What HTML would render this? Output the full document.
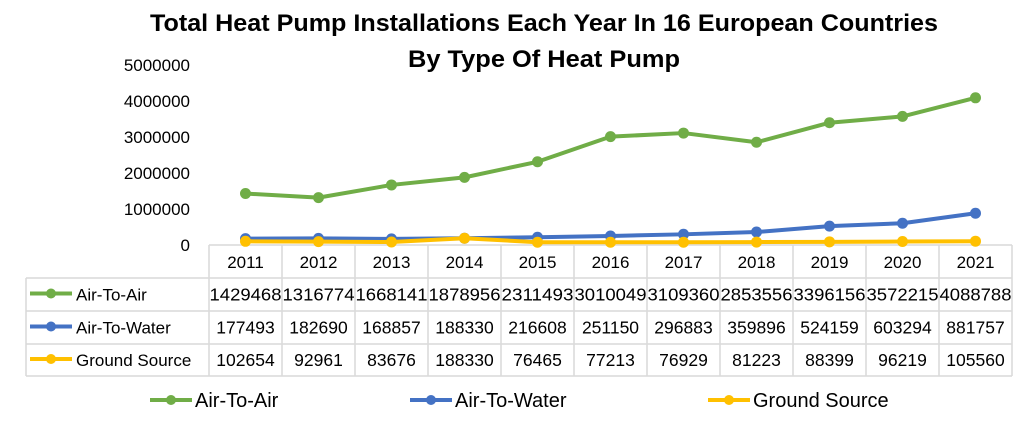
<!DOCTYPE html>
<html><head><meta charset="utf-8"><style>
html,body{margin:0;padding:0;background:#fff;}
svg text{font-family:"Liberation Sans Narrow","Liberation Sans",sans-serif;fill:#000;}
</style></head><body>
<svg id="chart" width="1029" height="416" xmlns="http://www.w3.org/2000/svg">
<g>
<text x="544" y="31" text-anchor="middle" font-size="24" font-weight="bold" textLength="788" lengthAdjust="spacingAndGlyphs" style="font-family:'Liberation Sans',sans-serif">Total Heat Pump Installations Each Year In 16 European Countries</text>
<text x="544" y="67" text-anchor="middle" font-size="24" font-weight="bold" textLength="272" lengthAdjust="spacingAndGlyphs" style="font-family:'Liberation Sans',sans-serif">By Type Of Heat Pump</text>
</g>
<g id="yaxis"></g>
<g id="table"></g>
<g id="series"></g>
<g id="legend"></g>
</svg>
<script>
const years=["2011","2012","2013","2014","2015","2016","2017","2018","2019","2020","2021"];
const airToAir=[1429468,1316774,1668141,1878956,2311493,3010049,3109360,2853556,3396156,3572215,4088788];
const airToWater=[177493,182690,168857,188330,216608,251150,296883,359896,524159,603294,881757];
const groundSource=[102654,92961,83676,188330,76465,77213,76929,81223,88399,96219,105560];
const yTicks=[0,1000000,2000000,3000000,4000000,5000000];
const seriesNames=["Air-To-Air","Air-To-Water","Ground Source"];
const colors=["#70ad47","#4472c4","#ffc000"];
const allSeries=[airToAir,airToWater,groundSource];

const NS="http://www.w3.org/2000/svg";
const X0=209,CW=73,Y0=245,YMAX=5000000,PH=180;
const xPos=i=>X0+CW*i+CW/2;
const yPos=v=>Y0-v/YMAX*PH;
function mk(tag,attrs,parent,txt){const e=document.createElementNS(NS,tag);for(const k in attrs)e.setAttribute(k,attrs[k]);if(txt!==undefined)e.textContent=txt;parent.appendChild(e);return e;}

const ya=document.getElementById('yaxis');
yTicks.forEach(t=>{const e=mk('text',{x:190,y:yPos(t)+6,'text-anchor':'end','font-size':17},ya,String(t));

});

const tb=document.getElementById('table');
const grid="#d9d9d9";
const rowsY=[245,278,311,344,376];
const right=X0+CW*years.length;
mk('line',{x1:X0,y1:245,x2:right,y2:245,stroke:grid,'stroke-width':1.5},tb);
for(let r=1;r<5;r++)mk('line',{x1:26,y1:rowsY[r],x2:right,y2:rowsY[r],stroke:grid,'stroke-width':1.5},tb);
mk('line',{x1:26,y1:278,x2:26,y2:376,stroke:grid,'stroke-width':1.5},tb);
for(let i=0;i<=years.length;i++)mk('line',{x1:X0+CW*i,y1:245,x2:X0+CW*i,y2:376,stroke:grid,'stroke-width':1.5},tb);
years.forEach((y,i)=>{const e=mk('text',{x:xPos(i),y:268,'text-anchor':'middle','font-size':17},tb,y);

});
allSeries.forEach((s,r)=>{
 const cy=(rowsY[r+1]+rowsY[r+2])/2;
 mk('line',{x1:30,y1:cy-1,x2:72,y2:cy-1,stroke:colors[r],'stroke-width':4},tb);
 mk('circle',{cx:51,cy:cy-1,r:5,fill:colors[r]},tb);
 const l=mk('text',{x:76,y:cy+6,'font-size':17,style:"font-family:'Liberation Sans',sans-serif"},tb,seriesNames[r]);
 
 
 s.forEach((v,i)=>{const e=mk('text',{x:xPos(i),y:cy+6,'text-anchor':'middle','font-size':17.5},tb,String(v));
 if(String(v).length>6)e.setAttribute('textLength','72'),e.setAttribute('lengthAdjust','spacingAndGlyphs');
 
 });
});

const sg=document.getElementById('series');
allSeries.forEach((s,r)=>{
 const g=mk('g',{},sg);
 
 
 mk('polyline',{points:s.map((v,i)=>xPos(i)+','+yPos(v)).join(' '),fill:'none',stroke:colors[r],'stroke-width':4,'stroke-linejoin':'round'},g);
 s.forEach((v,i)=>{const c=mk('circle',{cx:xPos(i),cy:yPos(v),r:5.5,fill:colors[r]},g);
 
 });
});

const lg=document.getElementById('legend');
const lx=[150,410,708];
seriesNames.forEach((n,r)=>{
 const g=mk('g',{},lg);
 
 
 mk('line',{x1:lx[r],y1:400,x2:lx[r]+42,y2:400,stroke:colors[r],'stroke-width':4},g);
 mk('circle',{cx:lx[r]+21,cy:400,r:5,fill:colors[r]},g);
 mk('text',{x:lx[r]+45,y:407,'font-size':20,style:"font-family:'Liberation Sans',sans-serif"},g,n);
});
</script>
</body></html>
